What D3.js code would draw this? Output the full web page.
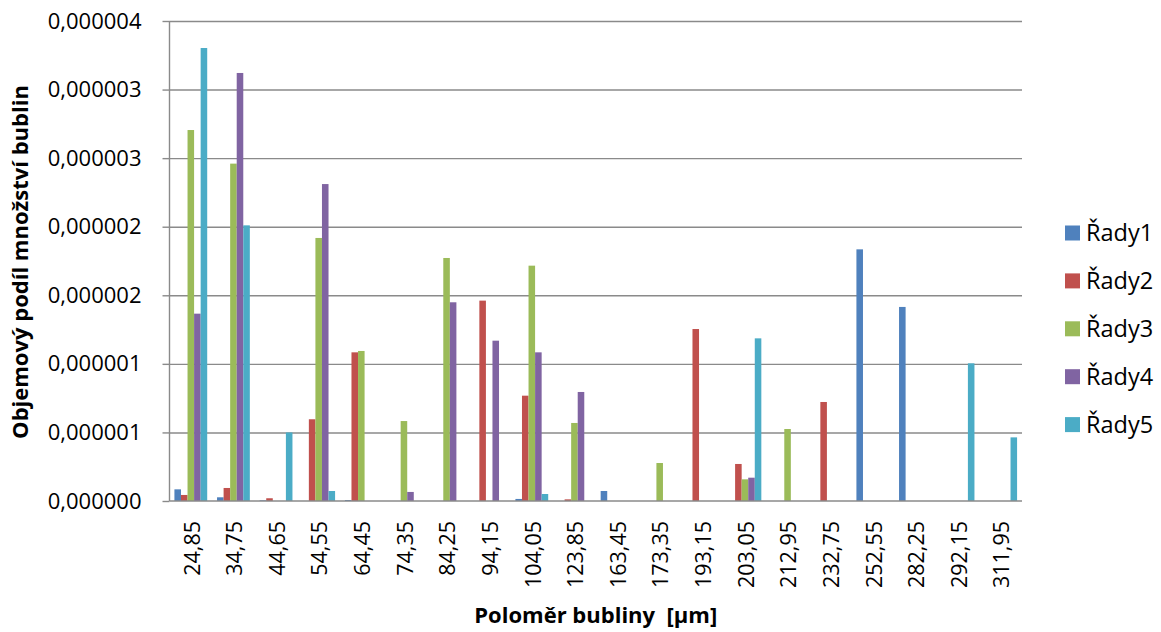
<!DOCTYPE html>
<html>
<head>
<meta charset="utf-8">
<script src="https://cdn.jsdelivr.net/npm/d3@7"></script>
<style>
  html, body { margin: 0; padding: 0; background: #fff; }
  svg { display: block; }
  text { font-family: "Open Sans", "Liberation Sans", sans-serif; fill: #000; }
</style>
</head>
<body>
<svg id="chart" width="1161" height="632"></svg>
<script>
const categories = ["24,85","34,75","44,65","54,55","64,45","74,35","84,25","94,15","104,05","123,85",
                    "163,45","173,35","193,15","203,05","212,95","232,75","252,55","282,25","292,15","311,95"];
const seriesNames = ["Řady1","Řady2","Řady3","Řady4","Řady5"];
const seriesColors = ["#4F81BD","#C0504D","#9BBB59","#8064A2","#4BACC6"];

const rady1 = [0.085e-6,0.027e-6,0.005e-6,0,0.007e-6,0,0,0,0.015e-6,0,0.073e-6,0,0,0,0,0,1.835e-6,1.415e-6,0,0];
const rady2 = [0.044e-6,0.095e-6,0.020e-6,0.596e-6,1.084e-6,0,0,1.461e-6,0.768e-6,0.012e-6,0,0,1.254e-6,0.270e-6,0,0.722e-6,0,0,0,0];
const rady3 = [2.705e-6,2.460e-6,0,1.918e-6,1.094e-6,0.583e-6,1.772e-6,0,1.716e-6,0.569e-6,0,0.277e-6,0,0.158e-6,0.525e-6,0,0,0,0,0];
const rady4 = [1.366e-6,3.121e-6,0,2.311e-6,0,0.066e-6,1.449e-6,1.169e-6,1.084e-6,0.795e-6,0,0,0,0.170e-6,0,0,0,0,0,0];
const rady5 = [3.303e-6,2.010e-6,0.500e-6,0.073e-6,0,0,0,0,0.051e-6,0,0,0,0,1.186e-6,0,0,0,0,1.004e-6,0.464e-6];

const yTickValues = [0,0.5e-6,1.0e-6,1.5e-6,2.0e-6,2.5e-6,3.0e-6,3.5e-6];
const yTickLabels = ["0,000000","0,000001","0,000001","0,000002","0,000002","0,000003","0,000003","0,000004"];

const yTitle = "Objemový podíl množství bublin";
const xTitle = "Poloměr bubliny  [µm]";

const seriesData = [rady1, rady2, rady3, rady4, rady5];

const plot = { left: 169.5, right: 1022, top: 21, bottom: 501 };
const svg = d3.select("#chart");
svg.append("rect").attr("width",1161).attr("height",632).attr("fill","#fff");

const x0 = d3.scaleBand().domain(categories).range([plot.left, plot.right])
  .paddingInner(0.2308).paddingOuter(0.1154);
const x1 = d3.scaleBand().domain(seriesNames).range([0, x0.bandwidth()]).padding(0);
const y = d3.scaleLinear().domain([0, 3.5e-6]).range([plot.bottom, plot.top]);

const gridColor = "#8a8a8a";

// gridlines
const grid = svg.append("g").attr("transform", `translate(${plot.left},0)`)
  .call(d3.axisLeft(y).tickValues(yTickValues.slice(1)).tickSize(-(plot.right - plot.left)).tickFormat(""));
grid.select(".domain").remove();
grid.selectAll("line").attr("stroke", gridColor).attr("stroke-width", 1.4);

// bars
const groups = svg.append("g").selectAll("g").data(categories).join("g")
  .attr("transform", d => `translate(${x0(d)},0)`);
groups.selectAll("rect")
  .data((c, i) => seriesNames.map((s, k) => ({ s, k, v: seriesData[k][i] })))
  .join("rect")
  .attr("x", d => x1(d.s))
  .attr("width", x1.bandwidth())
  .attr("y", d => y(d.v))
  .attr("height", d => y(0) - y(d.v))
  .attr("fill", d => seriesColors[d.k]);

// y axis
const yAxis = svg.append("g").attr("transform", `translate(${plot.left},0)`)
  .call(d3.axisLeft(y).tickValues(yTickValues).tickSize(7).tickPadding(21)
    .tickFormat((d, i) => yTickLabels[i]));
yAxis.select(".domain").attr("stroke", gridColor).attr("stroke-width", 1.4).attr("d", `M0,${plot.top}V${plot.bottom}`);
yAxis.selectAll(".tick line").attr("stroke", gridColor).attr("stroke-width", 1.4);
yAxis.selectAll(".tick text").attr("font-size", 22).attr("font-family", "Open Sans").attr("fill", "#000");

// x axis line
svg.append("line").attr("x1", plot.left).attr("x2", plot.right)
  .attr("y1", y(0)).attr("y2", y(0)).attr("stroke", gridColor).attr("stroke-width", 1.4);

// x tick labels
svg.append("g").selectAll("text").data(categories).join("text")
  .attr("transform", d => `translate(${x0(d) + x0.bandwidth()/2 + 1},521) rotate(-90)`)
  .attr("text-anchor", "end")
  .attr("dy", "0.36em")
  .attr("font-size", 21.5)
  .text(d => d);

// axis titles
svg.append("text")
  .attr("transform", `translate(28,262) rotate(-90)`)
  .attr("text-anchor", "middle")
  .attr("font-size", 22).attr("font-weight", "bold")
  .text(yTitle);

svg.append("text")
  .attr("x", (plot.left + plot.right)/2).attr("y", 623)
  .attr("text-anchor", "middle")
  .attr("font-size", 22).attr("font-weight", "bold")
  .style("white-space", "pre")
  .text(xTitle);

// legend
const legend = svg.append("g").selectAll("g").data(seriesNames).join("g")
  .attr("transform", (d, i) => `translate(1065,${233 + i*47.9})`);
legend.append("rect").attr("x", 0).attr("y", -7.5).attr("width", 15).attr("height", 15)
  .attr("fill", (d, i) => seriesColors[i]);
legend.append("text").attr("x", 21).attr("y", 0).attr("dy", "0.36em")
  .attr("font-size", 23.5).text(d => d);
</script>
</body>
</html>
